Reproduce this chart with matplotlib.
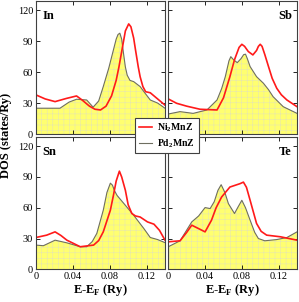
import numpy as np
import matplotlib as mpl
import matplotlib.pyplot as plt

mpl.rcParams['font.family'] = ['Liberation Serif', 'DejaVu Serif']
mpl.rcParams['mathtext.fontset'] = 'custom'
mpl.rcParams['mathtext.rm'] = 'Liberation Serif'
mpl.rcParams['mathtext.bf'] = 'Liberation Serif:bold'
mpl.rcParams['hatch.linewidth'] = 0.4
mpl.rcParams['hatch.color'] = '#e6e6b0'

# Ni2MnZ (red) curves, energy in Ry
ni_in_x = [0, 0.010, 0.0207, 0.033, 0.044, 0.050, 0.058, 0.064, 0.070, 0.076, 0.082, 0.087,
           0.090, 0.094, 0.097, 0.1006, 0.103, 0.106, 0.108, 0.111, 0.113, 0.116, 0.119,
           0.124, 0.132, 0.14]
ni_in_y = [37.9, 34, 31.4, 34.5, 36.9, 33, 27, 24, 23.3, 27, 37, 52,
           65, 85, 100, 106.8, 104, 93, 81.5, 65, 55.6, 46, 41,
           40, 34, 28]
ni_sb_x = [0, 0.009, 0.020, 0.0345, 0.053, 0.060, 0.067, 0.072, 0.077, 0.080, 0.083,
           0.087, 0.092, 0.096, 0.098, 0.100, 0.102, 0.105, 0.109, 0.113, 0.118, 0.123,
           0.129, 0.14]
ni_sb_y = [34, 29.8, 27, 24, 23.3, 35, 55.6, 72, 84, 87, 85,
           80, 76.7, 81, 85, 87, 85, 77, 65.4, 54, 44.3, 38,
           33, 26.5]
ni_sn_x = [0, 0.0116, 0.0207, 0.027, 0.0335, 0.048, 0.0625, 0.068, 0.073, 0.0807, 0.084,
           0.087, 0.0905, 0.093, 0.097, 0.100, 0.104, 0.108, 0.113, 0.121, 0.128, 0.134,
           0.14]
ni_sn_y = [31, 33.3, 36.5, 33, 28.4, 22, 23.6, 28, 36.5, 57.6, 72,
           86, 95.7, 90, 77, 63, 54.4, 52, 51, 46.2, 44, 38,
           28.4]
ni_te_x = [0, 0.0128, 0.020, 0.0255, 0.0327, 0.040, 0.047, 0.052, 0.058, 0.067, 0.078,
           0.0817, 0.085, 0.089, 0.096, 0.101, 0.107, 0.122, 0.14]
ni_te_y = [26.8, 27.8, 36, 43, 39.8, 36.5, 47.9, 60, 70.5, 80.2, 83.5,
           85, 80, 67.3, 44.7, 37, 33.3, 31.7, 28.4]

# Pd2MnZ (grey, filled) curves
pd_in_x = [0, 0.013, 0.026, 0.036, 0.044, 0.055, 0.062, 0.068, 0.073, 0.079, 0.084,
           0.087, 0.089, 0.091, 0.093, 0.095, 0.097, 0.099, 0.102, 0.106, 0.113, 0.118,
           0.124, 0.132, 0.14]
pd_in_y = [25, 25, 25, 31, 33.7, 33, 26, 32, 46, 64, 81.5,
           92, 96.5, 97.8, 92, 78, 65, 57, 52, 50.8, 46, 40,
           33, 30, 25]
pd_sb_x = [0, 0.0128, 0.027, 0.042, 0.053, 0.058, 0.062, 0.066, 0.068, 0.071, 0.075,
           0.079, 0.082, 0.084, 0.086, 0.089, 0.096, 0.1035, 0.109, 0.114, 0.125, 0.14]
pd_sb_y = [19.4, 21.7, 20, 23.3, 33, 44, 55.6, 71, 75, 72, 69.2,
           73, 77, 77.4, 73, 65.4, 55.6, 49.2, 43, 36.2, 26.5, 20]
pd_sn_x = [0, 0.008, 0.0207, 0.0335, 0.048, 0.055, 0.061, 0.066, 0.073, 0.077, 0.0807,
           0.083, 0.085, 0.088, 0.097, 0.106, 0.117, 0.124, 0.132, 0.14]
pd_sn_y = [23.6, 23, 28.4, 25.8, 22, 22, 27, 35, 57.6, 75, 84,
           82, 77, 72, 62.4, 52.7, 39.8, 31, 29, 26]
pd_te_x = [0, 0.0128, 0.0255, 0.033, 0.040, 0.0455, 0.050, 0.054, 0.0575, 0.0615,
           0.0654, 0.072, 0.076, 0.080, 0.084, 0.089, 0.094, 0.098, 0.105, 0.118, 0.129,
           0.14]
pd_te_y = [22, 27.8, 46.2, 52, 60.2, 59.2, 66, 77, 82.5, 75,
           64, 54.4, 61, 67.3, 60, 47.9, 36, 30, 27.8, 29, 31,
           36.5]

names = ['In', 'Sb', 'Sn', 'Te']
xticks = [0, 0.04, 0.08, 0.12]
xticklabels = ['0', '0.04', '0.08', '0.12']
yticks = [0, 30, 60, 90, 120]

panels = [
    (ni_in_x, ni_in_y, pd_in_x, pd_in_y),
    (ni_sb_x, ni_sb_y, pd_sb_x, pd_sb_y),
    (ni_sn_x, ni_sn_y, pd_sn_x, pd_sn_y),
    (ni_te_x, ni_te_y, pd_te_x, pd_te_y),
]

W, H = 299, 302
fig = plt.figure(figsize=(W / 100, H / 100), dpi=100)
boxes = [
    (36, 1, 165, 134),
    (168.3, 1, 297, 134),
    (36, 137, 165, 269.3),
    (168.3, 137, 297, 269.3),
]

for i, (nx, ny, px, py) in enumerate(panels):
    x0, y0, x1, y1 = boxes[i]
    ax = fig.add_axes([x0 / W, 1 - y1 / H, (x1 - x0) / W, (y1 - y0) / H])
    ax.fill_between(px, py, 0, facecolor='#ffff70', edgecolor='#e6e6b0',
                    hatch='+++', linewidth=0)
    ax.plot(px, py, color='#6e6e60', lw=0.8)
    ax.plot(nx, ny, color='#ff1a1a', lw=1.2)
    ax.set_xlim(0, 0.14)
    ax.set_ylim(0, 129)
    ax.set_xticks(xticks)
    ax.set_yticks(yticks)
    ax.tick_params(direction='in', top=True, right=True, length=3,
                   width=0.6, labelsize=7.5, pad=2)
    for s in ax.spines.values():
        s.set_linewidth(0.8)
        s.set_color('#404040')
    if i < 2:
        ax.set_xticklabels([])
    else:
        ax.set_xticklabels(xticklabels)
        ax.set_xlabel('E-E$_\\mathbf{F}$ (Ry)', fontsize=9, fontweight='bold',
                      labelpad=1)
    if i % 2 == 1:
        ax.set_yticklabels([])
        ax.text(0.96, 0.93, names[i], transform=ax.transAxes, ha='right',
                va='top', fontsize=9, fontweight='bold')
    else:
        ax.text(0.05, 0.93, names[i], transform=ax.transAxes, ha='left',
                va='top', fontsize=9, fontweight='bold')

fig.text(6.5 / W, 1 - 135 / H, 'DOS (states/Ry)', rotation=90, ha='center',
         va='center', fontsize=9, fontweight='bold')

h1, = plt.plot([], [], color='#ff1a1a', lw=1.2)
h2, = plt.plot([], [], color='#6e6e60', lw=0.8)
leg = fig.legend([h1, h2], ['Ni$_\\mathbf{2}$MnZ', 'Pd$_\\mathbf{2}$MnZ'],
                 loc='center', bbox_to_anchor=(167 / W, 1 - 135.5 / H),
                 fancybox=False, framealpha=1, edgecolor='#404040',
                 prop={'weight': 'bold', 'size': 7}, handlelength=1.4,
                 handletextpad=0.5, borderpad=0.35, labelspacing=0.3,
                 borderaxespad=0)
leg.get_frame().set_linewidth(0.8)

fig.savefig('out.png', dpi=100)
